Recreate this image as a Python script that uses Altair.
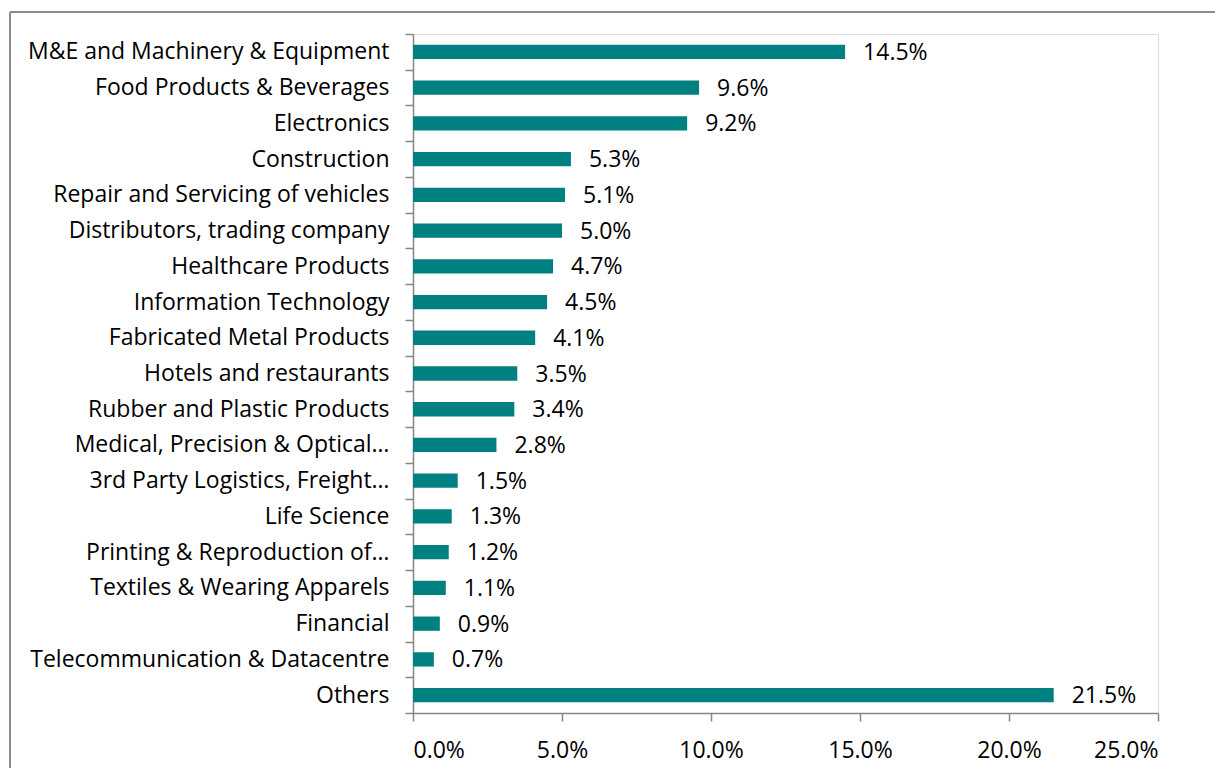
import altair as alt
import pandas as pd

categories = [
    "M&E and Machinery & Equipment",
    "Food Products & Beverages",
    "Electronics",
    "Construction",
    "Repair and Servicing of vehicles",
    "Distributors, trading company",
    "Healthcare Products",
    "Information Technology",
    "Fabricated Metal Products",
    "Hotels and restaurants",
    "Rubber and Plastic Products",
    "Medical, Precision & Optical…",
    "3rd Party Logistics, Freight…",
    "Life Science",
    "Printing & Reproduction of…",
    "Textiles & Wearing Apparels",
    "Financial",
    "Telecommunication & Datacentre",
    "Others",
]
shares = [14.5, 9.6, 9.2, 5.3, 5.1, 5.0, 4.7, 4.5, 4.1, 3.5, 3.4, 2.8, 1.5, 1.3, 1.2, 1.1, 0.9, 0.7, 21.5]
x_ticks = [0, 5, 10, 15, 20, 25]

df = pd.DataFrame({"category": categories, "share": shares})
df["label"] = [f"{v:.1f}%" for v in shares]

FONT = "Open Sans"
FS = 23
GRAY = "#868686"
TEAL = "#008080"

y_enc = alt.Y(
    "category:N",
    sort=categories,
    title=None,
    scale=alt.Scale(paddingInner=0, paddingOuter=0),
    axis=alt.Axis(
        tickBand="extent",
        domainColor=GRAY,
        tickColor=GRAY,
        domainWidth=1.5,
        tickWidth=1.5,
        tickSize=8,
        labelPadding=16,
        labelFontSize=FS,
        labelFont=FONT,
        labelColor="#000000",
        labelLimit=420,
    ),
)

x_enc = alt.X(
    "share:Q",
    title=None,
    scale=alt.Scale(domain=[0, 25], nice=False),
    axis=alt.Axis(
        values=x_ticks,
        labelExpr="format(datum.value, '.1f') + '%'",
        grid=False,
        domainColor=GRAY,
        tickColor=GRAY,
        domainWidth=1.5,
        tickWidth=1.5,
        tickSize=8,
        labelPadding=18,
        labelFontSize=FS,
        labelFont=FONT,
        labelColor="#000000",
    ),
)

base = alt.Chart(df)

bars = base.mark_bar(color=TEAL, height=alt.RelativeBandSize(0.40)).encode(x=x_enc, y=y_enc)

texts = base.mark_text(
    align="left", baseline="middle", dx=18, dy=1, fontSize=FS, font=FONT, color="#000000"
).encode(x="share:Q", y=alt.Y("category:N", sort=categories), text="label:N")

frame_df = pd.DataFrame({"k": [0]})
frame_top = alt.Chart(frame_df).mark_rule(color="#8c8c8c", strokeWidth=2, clip=False).encode(
    x=alt.value(-403), x2=alt.value(830), y=alt.value(-22)
)
frame_left = alt.Chart(frame_df).mark_rule(color="#8c8c8c", strokeWidth=2, clip=False).encode(
    x=alt.value(-403), y=alt.value(-22), y2=alt.value(780)
)

chart = (
    alt.layer(frame_top, frame_left, bars, texts)
    .properties(
        width=745,
        height=679,
        autosize=alt.AutoSizeParams(type="none"),
        padding={"left": 405, "top": 26, "right": 57, "bottom": 55},
    )
    .configure_view(stroke=None)
    .configure(background="white")
)

chart.save("out.html", embed_options={"renderer": "svg", "actions": False})
